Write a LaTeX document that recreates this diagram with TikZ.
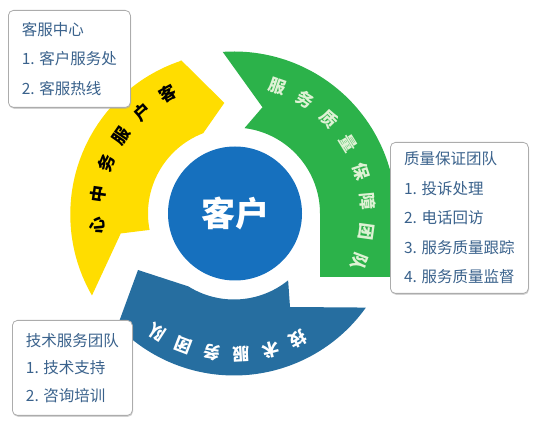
\documentclass[tikz,border=0pt]{standalone}
\usepackage{fontspec}
\setmainfont{Noto Sans CJK SC}
\usetikzlibrary{shadows}
\definecolor{ringyellow}{RGB}{255,221,0}
\definecolor{ringgreen}{RGB}{44,178,74}
\definecolor{ringblue}{RGB}{38,110,160}
\definecolor{hubblue}{RGB}{22,112,190}
\definecolor{boxtext}{RGB}{58,98,140}
\definecolor{greentext}{RGB}{222,242,212}
\begin{document}
\begin{tikzpicture}[x=1pt, y=1pt,
                    line join=round,
                    ]
    \tikzstyle{infobox}=[draw=gray!65, fill=white, rounded corners=5pt, line width=0.8pt,
        drop shadow={shadow xshift=0.6pt, shadow yshift=-1.4pt, fill=gray!70},
        anchor=north west, align=left, inner sep=0pt, text=boxtext,
        font=\fontsize{15.5}{29.5}\selectfont];
    \tikzstyle{arcchar}=[inner sep=0pt, font=\fontsize{17}{17}\selectfont\bfseries];
    \tikzstyle{yellowchar}=[arcchar, text=black];
    \tikzstyle{greenchar}=[arcchar, text=greentext];
    \tikzstyle{bluechar}=[arcchar, text=white];

    \useasboundingbox (0,0) rectangle (536,423);

    \begin{scope}[shift={(234,209.5)}]
        % three arrows of the ring
        \fill[ringyellow] (109:162) -- (95:111) -- (111:86)
            arc[start angle=111, end angle=191, radius=86]
            -- (190:115) -- (210:164)
            arc[start angle=210, end angle=109, radius=162] -- cycle;
        \fill[ringgreen] (94:162) -- (75:110) -- (83:86)
            arc[start angle=83, end angle=0, radius=86]
            -- (86,-63.5) -- (162,-63.5) -- (0:162)
            arc[start angle=0, end angle=94, radius=162] -- cycle;
        \fill[ringblue] (-51:86) -- (56,-93.5) -- (-35.5:162)
            arc[start angle=-35.5, end angle=-136, radius=162]
            -- (-96,-56.5) -- (-122:86)
            arc[start angle=-122, end angle=-51, radius=86] -- cycle;

        \node[circle, fill=hubblue, minimum size=134pt, inner sep=0pt, text=white,
              font=\fontsize{34}{34}\selectfont\bfseries] (hub) at (1,0) {客户};

        % texts along the ring
        \foreach \ch [count=\i] in {心,中,务,服,户,客} {
            \pgfmathsetmacro\ang{185-13.2*(\i-1)}
            \node[yellowchar, rotate=\ang-90] (y\i) at (\ang:137) {\ch};
        }
        \foreach \ch [count=\i] in {服,务,质,量,保,障,团,队} {
            \pgfmathsetmacro\ang{71-13.14*(\i-1)}
            \node[greenchar, rotate=\ang-90] (g\i) at (\ang:134) {\ch};
        }
        \foreach \ch [count=\i] in {技,术,服,务,团,队} {
            \pgfmathsetmacro\ang{-63-12*(\i-1)}
            \node[bluechar, rotate=\ang-90] (b\i) at (\ang:141) {\ch};
        }
    \end{scope}

    % info boxes
    \node[infobox, minimum width=122pt, minimum height=97pt] (kefu) at (8,413)
        {客服中心\\1. 客户服务处\\2. 客服热线};
    \node[infobox, minimum width=138pt, minimum height=151pt] (zhiliang) at (390,281)
        {质量保证团队\\1. 投诉处理\\2. 电话回访\\3. 服务质量跟踪\\4. 服务质量监督};
    \node[infobox, minimum width=120pt, minimum height=95pt,
          font=\fontsize{15.5}{27.5}\selectfont] (jishu) at (12,103)
        {技术服务团队\\1. 技术支持\\2. 咨询培训};
\end{tikzpicture}
\end{document}
